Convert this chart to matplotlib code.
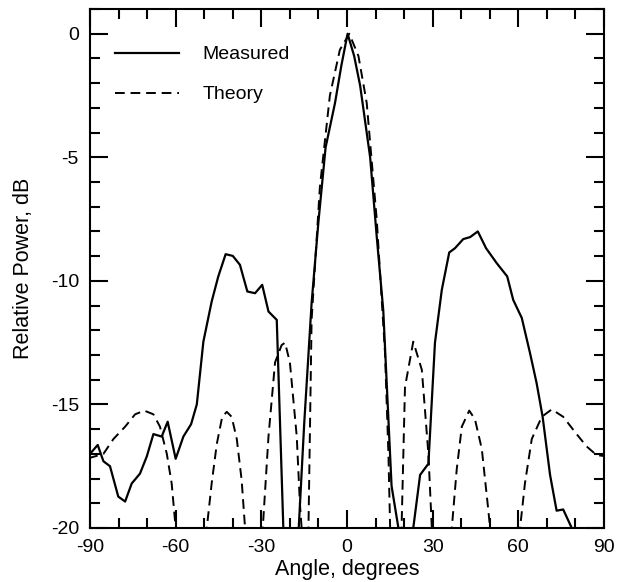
import matplotlib
matplotlib.use("Agg")
import matplotlib.pyplot as plt
import numpy as np
from matplotlib.ticker import MultipleLocator

plt.rcParams['font.family'] = ['Liberation Sans', 'DejaVu Sans']
plt.rcParams['axes.unicode_minus'] = False

# Measured pattern (angle in degrees, relative power in dB)
meas_ang = [-90, -87.3, -85.3, -83.0, -80.1, -77.7, -75.4, -72.5, -70.1, -67.8,
            -64.9, -62.8, -60.0, -57.3, -54.6, -52.6, -50.3, -47.4, -45.1, -42.5,
            -40.0, -37.5, -34.9, -32.2, -29.7, -27.5, -24.6, -22.3, -19.5, -17.0,
            -15.0, -12.4, -10.0, -7.5, -4.2, -2.0, 0.2, 2.5, 4.6, 8.1,
            10.4, 12.7, 15.6, 18.0, 20.5, 23.2, 25.6, 28.5, 30.8, 33.2,
            35.8, 37.8, 40.7, 43.1, 45.8, 48.7, 52.4, 56.1, 58.2, 61.2,
            64.1, 66.4, 68.5, 71.1, 73.4, 75.7, 78.7, 81.0]
meas_db = [-17.0, -16.64, -17.3, -17.5, -18.73, -18.93, -18.2, -17.8, -17.1, -16.2,
           -16.3, -15.7, -17.2, -16.3, -15.8, -15.0, -12.46, -10.84, -9.83, -8.92,
           -8.99, -9.35, -10.43, -10.5, -10.16, -11.24, -11.58, -20.0, -23.0, -20.2,
           -15.8, -10.9, -7.6, -4.6, -2.8, -1.3, 0.0, -0.9, -2.1, -5.0,
           -8.2, -11.2, -18.3, -20.0, -23.0, -20.0, -17.85, -17.4, -12.5, -10.36,
           -8.85, -8.68, -8.31, -8.23, -8.0, -8.68, -9.28, -9.82, -10.77, -11.5,
           -12.93, -14.14, -15.5, -17.85, -19.3, -19.25, -20.0, -21.0]

# Theoretical pattern
theo_ang = [-90.6, -88.2, -85.3, -81.8, -77.7, -74.2, -71.0, -67.8, -65.5, -63.1,
            -61.4, -60.0, -55.0, -49.1, -47.4, -45.6, -43.7, -42.1, -40.4, -38.6,
            -36.9, -35.7, -32.5, -29.5, -27.5, -25.2, -22.9, -21.7, -20.0, -17.6,
            -16.5, -15.9, -14.6, -13.5, -12.4, -9.5, -6.0, -2.5, 0.8, 4.0,
            6.9, 10.4, 13.3, 14.5, 15.1, 17.2, 19.1, 20.3, 23.2, 26.2,
            28.5, 29.7, 33.2, 36.7, 38.4, 40.2, 42.8, 44.8, 47.2, 49.5,
            50.1, 55.3, 60.6, 62.3, 64.7, 68.2, 71.7, 75.7, 80.4, 83.9,
            87.4, 90.9]
theo_db = [-17.18, -17.1, -17.0, -16.4, -15.9, -15.4, -15.25, -15.4, -15.9, -17.0,
           -18.2, -20.0, -30.0, -20.0, -18.2, -16.6, -15.5, -15.3, -15.5, -16.4,
           -18.06, -20.0, -30.0, -20.0, -16.3, -13.3, -12.6, -12.5, -13.3, -16.3,
           -19.0, -20.0, -30.0, -20.0, -11.58, -6.2, -2.5, -0.65, 0.0, -0.9,
           -2.8, -7.5, -12.9, -17.0, -20.0, -30.0, -20.0, -14.3, -12.46, -13.6,
           -17.0, -20.0, -30.0, -20.0, -17.65, -15.9, -15.25, -15.6, -16.8, -19.3,
           -20.0, -30.0, -20.0, -18.2, -16.4, -15.5, -15.2, -15.5, -16.2, -16.7,
           -17.05, -17.1]

fig = plt.figure(figsize=(6.19, 5.82), dpi=100)
ax = fig.add_axes([0.1454, 0.0928, 0.8304, 0.8917])

ax.plot(meas_ang, meas_db, color="k", linewidth=1.6, label="Measured")
ax.plot(theo_ang, theo_db, color="k", linewidth=1.4, dashes=(5, 3), label="Theory")

ax.set_xlim(-90, 90)
ax.set_ylim(-20, 1)
ax.xaxis.set_major_locator(MultipleLocator(30))
ax.xaxis.set_minor_locator(MultipleLocator(10))
ax.set_yticks([-20, -15, -10, -5, 0])
ax.yaxis.set_minor_locator(MultipleLocator(1))
ax.tick_params(which="both", direction="in", top=True, right=True,
               labelsize=14, width=1.5)
ax.tick_params(which="major", length=13)
ax.tick_params(which="minor", length=7)
ax.tick_params(axis="x", which="major", pad=8)
ax.tick_params(axis="y", which="major", pad=8)
for s in ax.spines.values():
    s.set_linewidth(1.5)

ax.set_xlabel("Angle, degrees", fontsize=15.5, labelpad=2)
ax.set_ylabel("Relative Power, dB", fontsize=15.5, labelpad=12)

ax.legend(loc="upper left", bbox_to_anchor=(0.015, 0.963), frameon=False,
          fontsize=14, handlelength=3.3, handletextpad=1.2, labelspacing=1.15)

fig.savefig("out.png", dpi=100)
